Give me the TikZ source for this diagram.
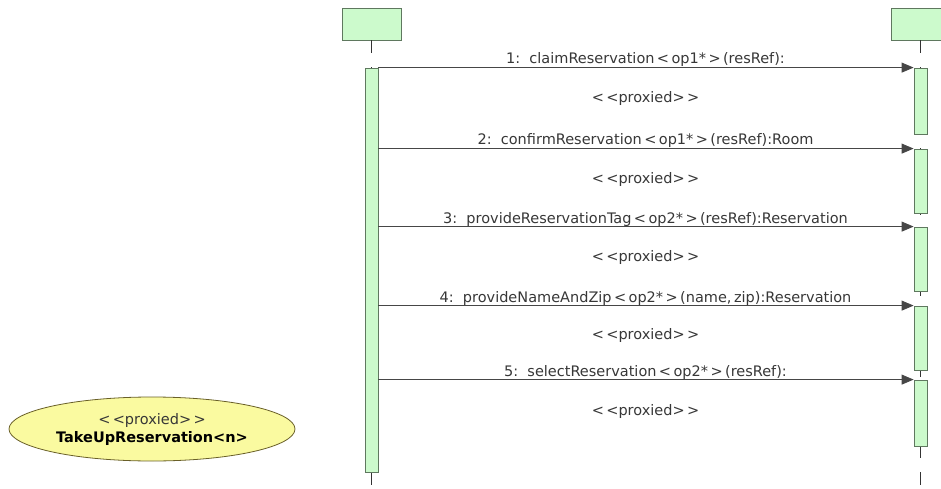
\documentclass[tikz,border=0pt]{standalone}
\usepackage{fontspec}
\setmainfont{DejaVu Sans}
\usetikzlibrary{arrows.meta,shapes.geometric}
\definecolor{lifegreen}{RGB}{204,250,204}
\definecolor{boxline}{RGB}{95,120,95}
\definecolor{msgline}{RGB}{70,70,70}
\definecolor{labeltext}{RGB}{55,55,55}
\definecolor{ucfill}{RGB}{250,250,160}
\definecolor{ucline}{RGB}{105,95,40}
\newcommand{\lang}{\,<\,}
\newcommand{\rang}{\,>\,}
\begin{document}
\begin{tikzpicture}[x=1pt,y=-1pt,
  font=\fontsize{14.5}{17}\selectfont,
  headbox/.style={draw=boxline,fill=lifegreen,line width=0.8pt,minimum width=59pt,minimum height=32pt,inner sep=0pt},
  actbar/.style={draw=boxline,fill=lifegreen,line width=0.8pt,minimum width=13pt,inner sep=0pt},
  msg/.style={draw=msgline,line width=0.8pt,-{Triangle[length=12pt,width=10pt]}},
  msglabel/.style={text=labeltext,inner sep=0pt,anchor=base},
  lifeline/.style={draw=black!80,line width=0.8pt,dash pattern=on 13pt off 14pt},
  usecase/.style={ellipse,draw=ucline,fill=ucfill,line width=0.8pt,minimum width=286pt,minimum height=64pt,align=center,inner sep=0pt}]
\useasboundingbox (0,0) rectangle (941,489);
\clip (0,0) rectangle (941,489);

% objects and lifelines
\node[headbox] (objA) at (371.5,24) {};
\node[headbox] (objB) at (921,24) {};
\coordinate (endA) at (371.5,489);
\coordinate (endB) at (920.5,489);
\draw[lifeline] (objA.south) -- (endA);
\draw[lifeline] (objB.south -| endB) -- (endB);

% activations
\node[actbar,minimum height=404pt] (actA) at (371.5,270) {};
\node[actbar,minimum height=66pt] (actB1) at (920.5,101) {};
\node[actbar,minimum height=64pt] (actB2) at (920.5,181) {};
\node[actbar,minimum height=64pt] (actB3) at (920.5,259) {};
\node[actbar,minimum height=64pt] (actB4) at (920.5,338) {};
\node[actbar,minimum height=66pt] (actB5) at (920.5,413) {};

% messages
\draw[msg] (actA.east |- actB1.north) -- (actB1.north west);
\draw[msg] (actA.east |- actB2.north) -- (actB2.north west);
\draw[msg] (actA.east |- actB3.north) -- (actB3.north west);
\draw[msg] (actA.east |- actB4.north) -- (actB4.north west);
\draw[msg] (actA.east |- actB5.north) -- (actB5.north west);

\node[msglabel] (lbl1) at (645.5,64) {1:\ \ claimReservation\lang op1*\rang(resRef):};
\node[msglabel] (prx1) at (645.5,103) {<\,<proxied>\,>};
\node[msglabel] (lbl2) at (645.5,145) {2:\ \ confirmReservation\lang op1*\rang(resRef):Room};
\node[msglabel] (prx2) at (645.5,183) {<\,<proxied>\,>};
\node[msglabel] (lbl3) at (645.5,223) {3:\ \ provideReservationTag\lang op2*\rang(resRef):Reservation};
\node[msglabel] (prx3) at (645.5,261) {<\,<proxied>\,>};
\node[msglabel] (lbl4) at (645.5,302) {4:\ \ provideNameAndZip\lang op2*\rang(name,\,zip):Reservation};
\node[msglabel] (prx4) at (645.5,339) {<\,<proxied>\,>};
\node[msglabel] (lbl5) at (645.5,376) {5:\ \ selectReservation\lang op2*\rang(resRef):};
\node[msglabel] (prx5) at (645.5,415) {<\,<proxied>\,>};

% use case
\node[usecase] (uc) at (152,429) {\textcolor{labeltext}{<\,<proxied>\,>}\\[1pt]\textbf{TakeUpReservation<n>}};
\end{tikzpicture}
\end{document}
